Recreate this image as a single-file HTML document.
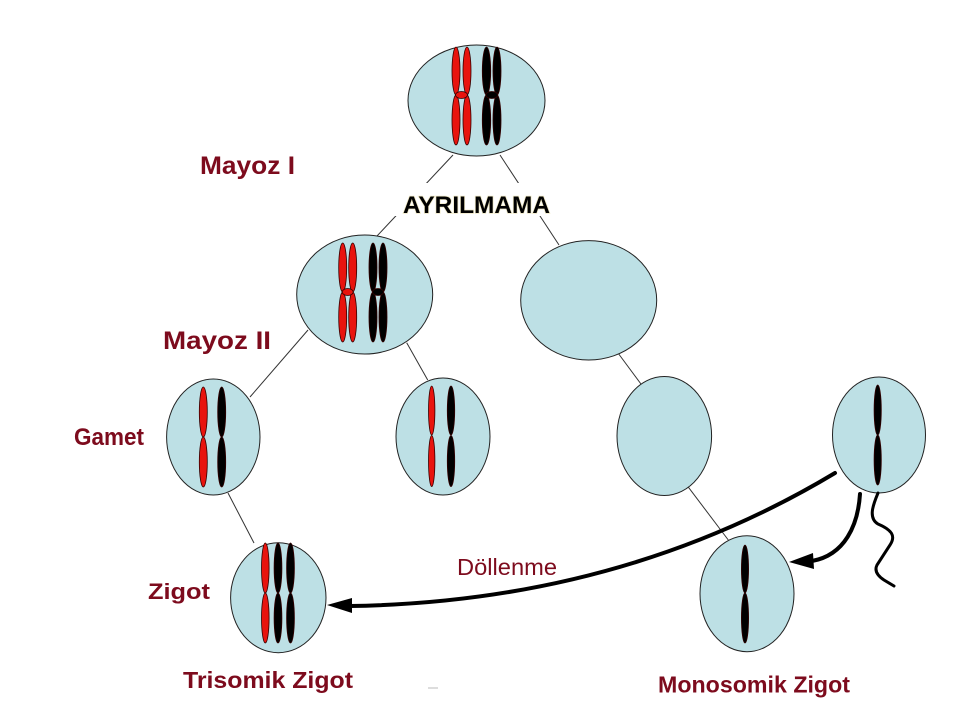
<!DOCTYPE html>
<html><head><meta charset="utf-8"><style>
html,body{margin:0;padding:0;background:#fff;width:960px;height:720px;overflow:hidden}
svg{display:block}
.lbl{font-family:"Liberation Sans",sans-serif;font-weight:bold;fill:#7d0b1d}
</style></head><body>
<svg width="960" height="720" viewBox="0 0 960 720" xmlns="http://www.w3.org/2000/svg">
<rect width="960" height="720" fill="#fff"/>
<g stroke="#333" stroke-width="1" fill="none">
<line x1="453" y1="155" x2="377" y2="236"/>
<line x1="500" y1="155" x2="559" y2="245"/>
<line x1="308" y1="330" x2="250" y2="397"/>
<line x1="406.7" y1="342.7" x2="427.7" y2="380"/>
<line x1="618" y1="353" x2="641.7" y2="385"/>
<line x1="688" y1="486.7" x2="728.3" y2="540"/>
<line x1="228" y1="493" x2="254" y2="543"/>
</g>
<rect x="330" y="183" width="300" height="33" fill="#fff"/>
<g fill="#bde0e5" stroke="#222" stroke-width="1">
<ellipse cx="476.5" cy="100.5" rx="68.5" ry="55.5"/>
<ellipse cx="364.7" cy="294.5" rx="68" ry="59.5"/>
<ellipse cx="588.7" cy="300.3" rx="68" ry="59.7"/>
<ellipse cx="213.3" cy="437" rx="46.7" ry="58"/>
<ellipse cx="443" cy="436.5" rx="47" ry="58.5"/>
<ellipse cx="664.3" cy="436" rx="47.3" ry="59.5"/>
<ellipse cx="879" cy="435" rx="46.5" ry="58"/>
<ellipse cx="747" cy="593.7" rx="47" ry="58"/>
<ellipse cx="278.3" cy="597.7" rx="47.7" ry="55"/>
</g>
<!-- chromosomes -->
<g stroke="#300" stroke-width="0.8">
<!-- top -->
<g fill="#e8140e">
<ellipse cx="456" cy="71" rx="4" ry="24"/><ellipse cx="456" cy="120" rx="4" ry="25"/>
<ellipse cx="467" cy="71" rx="4" ry="24"/><ellipse cx="467" cy="120" rx="4" ry="25"/>
<ellipse cx="461.5" cy="95" rx="6" ry="3.5"/>
</g>
<g fill="#000">
<ellipse cx="486.5" cy="71" rx="4.2" ry="24"/><ellipse cx="486.5" cy="120" rx="4.2" ry="25"/>
<ellipse cx="497" cy="71" rx="4" ry="24"/><ellipse cx="497" cy="120" rx="4" ry="25"/>
<ellipse cx="491.8" cy="95" rx="6" ry="3.5"/>
</g>
<!-- mid-left -->
<g fill="#e8140e">
<ellipse cx="342.7" cy="267.5" rx="4" ry="24.5"/><ellipse cx="342.7" cy="317" rx="4" ry="25"/>
<ellipse cx="352.7" cy="267.5" rx="4" ry="24.5"/><ellipse cx="352.7" cy="317" rx="4" ry="25"/>
<ellipse cx="347.7" cy="292" rx="5.5" ry="3.5"/>
</g>
<g fill="#000">
<ellipse cx="373" cy="267.5" rx="4" ry="24.5"/><ellipse cx="373" cy="317" rx="4" ry="25"/>
<ellipse cx="383" cy="267.5" rx="4" ry="24.5"/><ellipse cx="383" cy="317" rx="4" ry="25"/>
<ellipse cx="378" cy="292" rx="5.5" ry="3.5"/>
</g>
<!-- gamete 1 -->
<ellipse cx="203.3" cy="412" rx="4" ry="25" fill="#e8140e"/><ellipse cx="203.3" cy="462" rx="4" ry="25" fill="#e8140e"/>
<ellipse cx="221.7" cy="412" rx="4" ry="25" fill="#000"/><ellipse cx="221.7" cy="462" rx="4" ry="25" fill="#000"/>
<!-- gamete 2 -->
<ellipse cx="431.7" cy="410.5" rx="3.2" ry="24.5" fill="#e8140e"/><ellipse cx="431.7" cy="461" rx="3.2" ry="25.5" fill="#e8140e"/>
<ellipse cx="451" cy="410.5" rx="3.7" ry="24.5" fill="#000"/><ellipse cx="451" cy="461" rx="3.7" ry="25.5" fill="#000"/>
<!-- sperm -->
<ellipse cx="877.7" cy="410" rx="3.6" ry="25" fill="#000"/><ellipse cx="877.7" cy="460" rx="3.6" ry="25" fill="#000"/>
<!-- monosomic -->
<ellipse cx="745" cy="569" rx="3.6" ry="24" fill="#000"/><ellipse cx="745" cy="618" rx="3.6" ry="25" fill="#000"/>
<!-- trisomic -->
<ellipse cx="265.3" cy="568" rx="3.8" ry="25" fill="#e8140e"/><ellipse cx="265.3" cy="618" rx="3.8" ry="25" fill="#e8140e"/>
<ellipse cx="278" cy="568" rx="3.9" ry="25" fill="#000"/><ellipse cx="278" cy="618" rx="3.9" ry="25" fill="#000"/>
<ellipse cx="290.5" cy="568" rx="3.9" ry="25" fill="#000"/><ellipse cx="290.5" cy="618" rx="3.9" ry="25" fill="#000"/>
</g>
<!-- arrows -->
<g fill="none" stroke="#000" stroke-linecap="round">
<path d="M835,473 Q620,602 350,606" stroke-width="4"/>
<path d="M860,494 C858,525 845,555 812,561" stroke-width="4"/>
<path d="M878,493 C873,505 868,518 878,524 C892,530 896,536 890,545 L877,565 C874,571 878,576 884,580 L894,586" stroke-width="3"/>
</g>
<polygon points="327,605 352,598 352,613" fill="#000"/>
<polygon points="789,562 813,553 814,569" fill="#000"/>
<line x1="428" y1="688" x2="438" y2="688" stroke="#bbb" stroke-width="1"/>
<!-- labels -->
<text x="403" y="213" font-family="Liberation Sans, sans-serif" font-weight="bold" font-size="24.5" fill="#000" stroke="#e8dca0" stroke-width="1.5" stroke-opacity="0.6" paint-order="stroke" textLength="147" lengthAdjust="spacingAndGlyphs">AYRILMAMA</text>
<text class="lbl" x="200" y="174" font-size="25" textLength="95" lengthAdjust="spacingAndGlyphs">Mayoz I</text>
<text class="lbl" x="163" y="349" font-size="25" textLength="108" lengthAdjust="spacingAndGlyphs">Mayoz II</text>
<text class="lbl" x="74" y="445" font-size="24.5" textLength="70" lengthAdjust="spacingAndGlyphs">Gamet</text>
<text class="lbl" x="148" y="599" font-size="22" textLength="62" lengthAdjust="spacingAndGlyphs">Zigot</text>
<text class="lbl" x="183" y="688" font-size="23" textLength="170" lengthAdjust="spacingAndGlyphs">Trisomik Zigot</text>
<text class="lbl" x="658" y="692.7" font-size="23" textLength="192" lengthAdjust="spacingAndGlyphs">Monosomik Zigot</text>
<text x="457" y="575" font-family="Liberation Sans, sans-serif" font-size="23" fill="#7d0b1d" textLength="100" lengthAdjust="spacingAndGlyphs">Döllenme</text>
</svg>
</body></html>
